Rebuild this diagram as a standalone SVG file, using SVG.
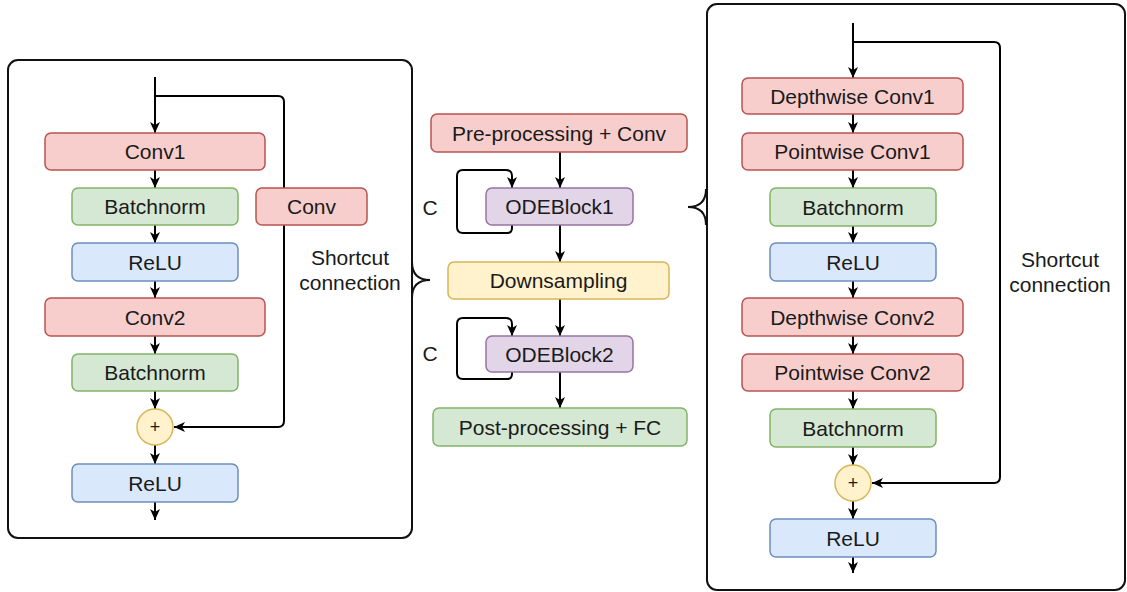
<svg xmlns="http://www.w3.org/2000/svg" width="1127" height="592" viewBox="0 0 1127 592">
  <style>
    text { font-family: "Liberation Sans", Arial, sans-serif; font-size: 21px; fill: #1a1a1a; text-anchor: middle; dominant-baseline: central; }
    .frame { fill: none; stroke: #111; stroke-width: 2; }
    .red { fill: #f8cecc; stroke: #b85450; stroke-width: 1.5; }
    .green { fill: #d5e8d4; stroke: #82b366; stroke-width: 1.5; }
    .blue { fill: #dae8fc; stroke: #6c8ebf; stroke-width: 1.5; }
    .yellow { fill: #fff2cc; stroke: #d6b656; stroke-width: 1.5; }
    .purple { fill: #e1d5e7; stroke: #9673a6; stroke-width: 1.5; }
    .edge { fill: none; stroke: #000; stroke-width: 2; }
    .arrow { marker-end: url(#head); }
  </style>
  <defs>
    <marker id="head" markerUnits="userSpaceOnUse" markerWidth="12" markerHeight="12" refX="11" refY="6" orient="auto">
      <path d="M0,1 L11,6 L0,11 L3,6 z" fill="#000"/>
    </marker>
  </defs>

  <rect width="1127" height="592" fill="#fff"/>

  <!-- panel frames and braces -->
  <g id="frames">
    <rect class="frame" x="8" y="60" width="404" height="478" rx="10"/>
    <rect class="frame" x="707" y="4" width="418" height="586" rx="10"/>
    <path class="frame" d="M412,262 Q412,280 430,280 M412,298 Q412,280 430,280"/>
    <path class="frame" d="M706,189 Q706,207 688,207 M706,225 Q706,207 688,207"/>
  </g>

  <g id="connectors">
    <!-- left residual block -->
    <path class="edge arrow" d="M155,77 V133"/>
    <path class="edge arrow" d="M155,170 V188"/>
    <path class="edge arrow" d="M155,225 V243"/>
    <path class="edge arrow" d="M155,281 V298"/>
    <path class="edge arrow" d="M155,336 V354"/>
    <path class="edge arrow" d="M155,391 V409"/>
    <path class="edge arrow" d="M155,445 V464"/>
    <path class="edge arrow" d="M155,502 V520"/>
    <path class="edge arrow" d="M155,96 H278 Q284,96 284,102 V421 Q284,427 278,427 H174"/>
    <!-- middle network -->
    <path class="edge arrow" d="M560,152 V188"/>
    <path class="edge arrow" d="M560,225 V262"/>
    <path class="edge arrow" d="M560,299 V336"/>
    <path class="edge arrow" d="M560,372 V408"/>
    <path class="edge arrow" d="M512,225 V228 Q512,233 507,233 H463 Q457,233 457,227 V176 Q457,170 463,170 H506 Q512,170 512,176 V188"/>
    <path class="edge arrow" d="M512,372 V374 Q512,379 507,379 H463 Q457,379 457,373 V324 Q457,318 463,318 H506 Q512,318 512,324 V336"/>
    <!-- right separable block -->
    <path class="edge arrow" d="M853,23 V78"/>
    <path class="edge arrow" d="M853,114 V133"/>
    <path class="edge arrow" d="M853,170 V188"/>
    <path class="edge arrow" d="M853,226 V243"/>
    <path class="edge arrow" d="M853,281 V298"/>
    <path class="edge arrow" d="M853,336 V354"/>
    <path class="edge arrow" d="M853,391 V409"/>
    <path class="edge arrow" d="M853,447 V465"/>
    <path class="edge arrow" d="M853,501 V519"/>
    <path class="edge arrow" d="M853,557 V573"/>
    <path class="edge arrow" d="M853,42 H994 Q1000,42 1000,48 V477 Q1000,483 994,483 H872"/>
  </g>

  <!-- left residual block nodes -->
  <g id="l-conv1"><rect class="red" x="45" y="133" width="220" height="37" rx="6"/><text x="155" y="151.5">Conv1</text></g>
  <g id="l-bn1"><rect class="green" x="72" y="188" width="166" height="37" rx="6"/><text x="155" y="206.5">Batchnorm</text></g>
  <g id="l-conv-sc"><rect class="red" x="256" y="188" width="111" height="37" rx="6"/><text x="311.5" y="206.5">Conv</text></g>
  <g id="l-relu1"><rect class="blue" x="72" y="243" width="166" height="38" rx="6"/><text x="155" y="262">ReLU</text></g>
  <g id="l-conv2"><rect class="red" x="45" y="298" width="220" height="38" rx="6"/><text x="155" y="317">Conv2</text></g>
  <g id="l-bn2"><rect class="green" x="72" y="354" width="166" height="37" rx="6"/><text x="155" y="372.5">Batchnorm</text></g>
  <g id="l-add"><circle class="yellow" cx="155" cy="427" r="18"/><text x="155" y="427" style="font-size:18px">+</text></g>
  <g id="l-relu2"><rect class="blue" x="72" y="464" width="166" height="38" rx="6"/><text x="155" y="483">ReLU</text></g>
  <g id="l-label"><text x="350" y="257">Shortcut</text><text x="350" y="282">connection</text></g>

  <!-- middle network nodes -->
  <g id="m-pre"><rect class="red" x="431" y="114" width="256" height="38" rx="6"/><text x="559" y="133">Pre-processing + Conv</text></g>
  <g id="m-ode1"><rect class="purple" x="486" y="188" width="147" height="37" rx="6"/><text x="559.5" y="206.5">ODEBlock1</text></g>
  <g id="m-c1"><text x="430" y="207">C</text></g>
  <g id="m-down"><rect class="yellow" x="448" y="262" width="221" height="37" rx="6"/><text x="558.5" y="280.5">Downsampling</text></g>
  <g id="m-ode2"><rect class="purple" x="486" y="336" width="147" height="36" rx="6"/><text x="559.5" y="354">ODEBlock2</text></g>
  <g id="m-c2"><text x="430" y="353">C</text></g>
  <g id="m-post"><rect class="green" x="433" y="408" width="254" height="38" rx="6"/><text x="560" y="427">Post-processing + FC</text></g>

  <!-- right separable block nodes -->
  <g id="r-dw1"><rect class="red" x="742" y="78" width="221" height="36" rx="6"/><text x="852.5" y="96">Depthwise Conv1</text></g>
  <g id="r-pw1"><rect class="red" x="742" y="133" width="221" height="37" rx="6"/><text x="852.5" y="151.5">Pointwise Conv1</text></g>
  <g id="r-bn1"><rect class="green" x="770" y="188" width="166" height="38" rx="6"/><text x="853" y="207">Batchnorm</text></g>
  <g id="r-relu1"><rect class="blue" x="770" y="243" width="166" height="38" rx="6"/><text x="853" y="262">ReLU</text></g>
  <g id="r-dw2"><rect class="red" x="742" y="298" width="221" height="38" rx="6"/><text x="852.5" y="317">Depthwise Conv2</text></g>
  <g id="r-pw2"><rect class="red" x="742" y="354" width="221" height="37" rx="6"/><text x="852.5" y="372.5">Pointwise Conv2</text></g>
  <g id="r-bn2"><rect class="green" x="770" y="409" width="166" height="38" rx="6"/><text x="853" y="428">Batchnorm</text></g>
  <g id="r-add"><circle class="yellow" cx="853" cy="483" r="18"/><text x="853" y="483" style="font-size:18px">+</text></g>
  <g id="r-relu2"><rect class="blue" x="770" y="519" width="166" height="38" rx="6"/><text x="853" y="538">ReLU</text></g>
  <g id="r-label"><text x="1060" y="259">Shortcut</text><text x="1060" y="284">connection</text></g>
</svg>
